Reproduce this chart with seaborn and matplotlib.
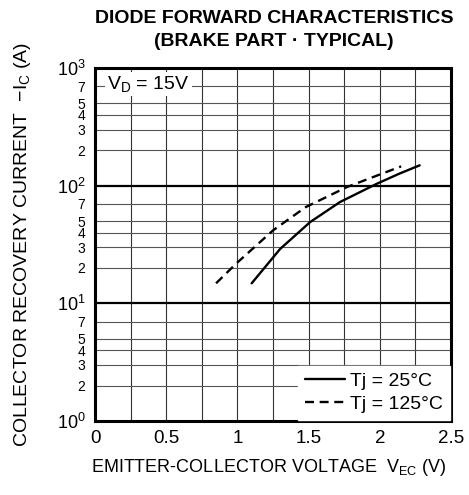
import numpy as np
import pandas as pd
import seaborn as sns
import matplotlib.pyplot as plt
from matplotlib.ticker import FixedLocator

# curve values
v_25 = [1.10, 1.30, 1.51, 1.72, 1.98, 2.14, 2.28]
i_25 = [14.8, 29, 49, 72.6, 104, 127, 149]
v_125 = [0.85, 0.99, 1.25, 1.48, 1.77, 2.15]
i_125 = [14.8, 21.7, 41.7, 65.8, 97.5, 146]

labels = ['Tj = 25°C', 'Tj = 125°C']
x_ticks = [0, 0.5, 1, 1.5, 2, 2.5]
decades = [1, 10, 100, 1000]
minor_digits = [2, 3, 4, 5, 7]

sns.set_style('white')
plt.rcParams['font.family'] = ['Liberation Sans', 'DejaVu Sans']
plt.rcParams['mathtext.fontset'] = 'custom'
plt.rcParams['mathtext.rm'] = 'Liberation Sans'
for k in ['text.color', 'axes.labelcolor', 'xtick.color', 'ytick.color']:
    plt.rcParams[k] = 'black'

df = pd.DataFrame({
    'v': v_25 + v_125,
    'i': i_25 + i_125,
    'tj': [labels[0]] * len(v_25) + [labels[1]] * len(v_125),
})

fig = plt.figure(figsize=(4.69, 4.95), dpi=100)
ax = fig.add_axes([0.2026, 0.1495, 0.759, 0.713])

sns.lineplot(data=df, x='v', y='i', hue='tj', style='tj',
             palette=['black', 'black'], dashes=[(None, None), (3.8, 2.4)],
             linewidth=1.7, ax=ax, zorder=5)

ax.set_yscale('log')
ax.set_xlim(0, 2.5)
ax.set_ylim(1, 1000)

# grid
for gx in np.arange(0.25, 2.5, 0.25):
    ax.axvline(gx, color='#333333', lw=0.8, zorder=1)
for d in decades[:-1]:
    for m in minor_digits:
        ax.axhline(d * m, color='#555555', lw=0.8, zorder=1)
for d in decades[1:-1]:
    ax.axhline(d, color='black', lw=1.6, zorder=1)

ax.set_xticks(x_ticks)
ax.set_xticklabels(['0', '0.5', '1', '1.5', '2', '2.5'], fontsize=13.5)
ax.yaxis.set_major_locator(FixedLocator(decades))
ax.set_yticklabels(['10$\\mathregular{^0}$', '10$\\mathregular{^1}$',
                    '10$\\mathregular{^2}$', '10$\\mathregular{^3}$'], fontsize=13)
minors = [d * m for d in decades[:-1] for m in minor_digits]
ax.yaxis.set_minor_locator(FixedLocator(minors))
ax.set_yticklabels([str(m) for d in decades[:-1] for m in minor_digits],
                   minor=True, fontsize=10)
ax.tick_params(axis='both', which='both', length=0)
ax.tick_params(axis='y', which='both', pad=7)
ax.tick_params(axis='x', pad=6.5)

for s in ax.spines.values():
    s.set_linewidth(2.2)
    s.set_color('black')

ax.set_xlabel('EMITTER-COLLECTOR VOLTAGE  V$\\mathregular{_{EC}}$ (V)', fontsize=13)
ax.xaxis.set_label_coords(0.487, -0.102)
ax.set_ylabel('COLLECTOR RECOVERY CURRENT  $-$I$\\mathregular{_C}$ (A)', fontsize=14)
ax.yaxis.set_label_coords(-0.175, 0.5)
fig.text(0.584, 1 - 30 / 495, 'DIODE FORWARD CHARACTERISTICS\n(BRAKE PART · TYPICAL)',
         fontsize=14, fontweight='bold', ha='center', va='center', linespacing=1.4)

ax.text(0.035, 0.955, 'V$\\mathregular{_D}$ = 15V', transform=ax.transAxes, fontsize=14,
        ha='left', va='center', zorder=6,
        bbox=dict(facecolor='white', edgecolor='none', pad=1.5))

leg = ax.legend(loc='lower right', fontsize=14, frameon=True, fancybox=False,
                handlelength=2.05, borderaxespad=0.05, borderpad=0.35,
                labelspacing=0.28, handletextpad=0.3)
leg.get_frame().set_edgecolor('white')
leg.get_frame().set_alpha(1)
leg.set_zorder(7)

fig.savefig('out.png', dpi=100)
